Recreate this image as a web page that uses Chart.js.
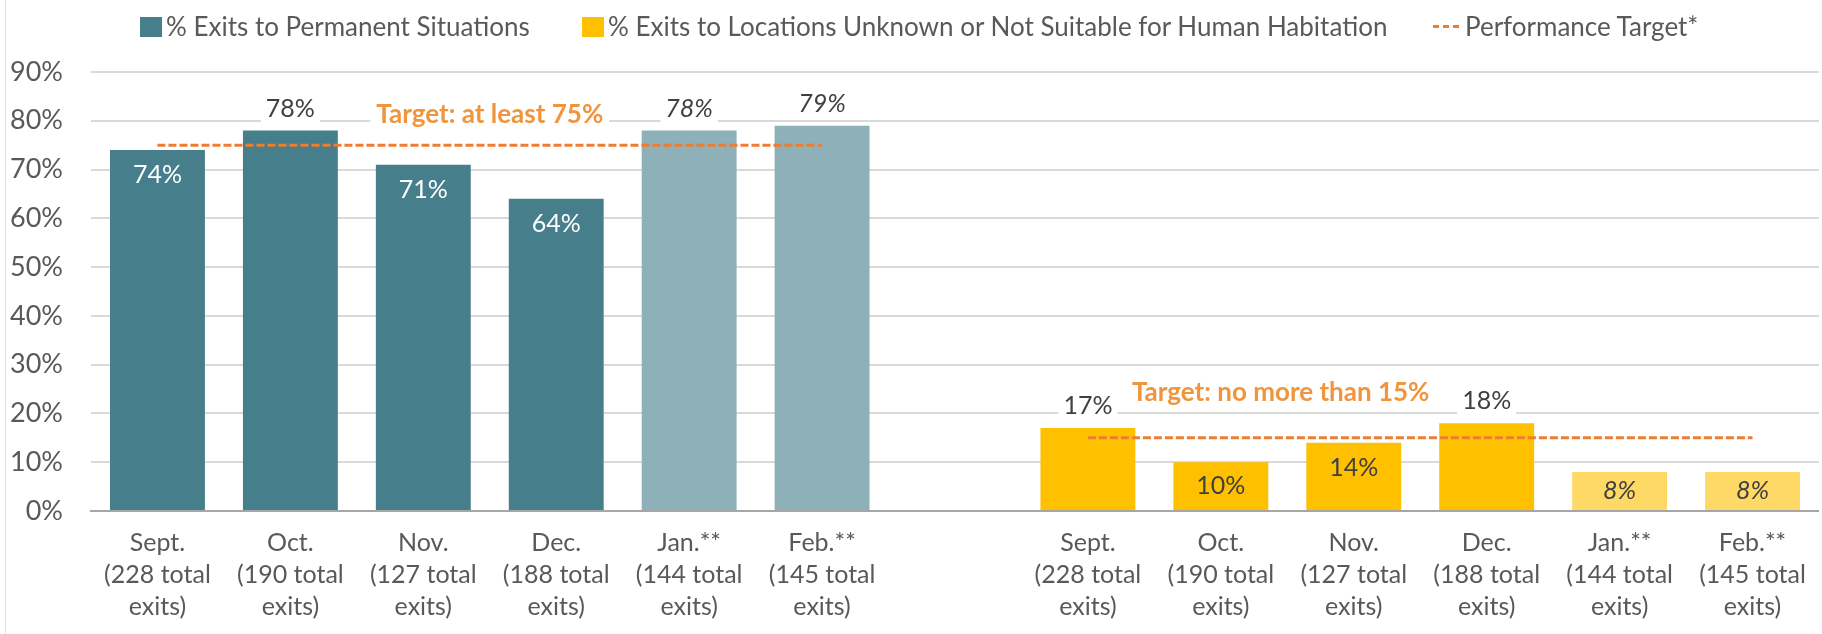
<!DOCTYPE html>
<html>
<head>
<meta charset="utf-8">
<script src="https://cdn.jsdelivr.net/npm/chart.js@4.4.1/dist/chart.umd.min.js"></script>
<style>
  html, body { margin: 0; padding: 0; background: #fff; }
  #wrap { position: relative; width: 1822px; height: 634px; font-family: Lato, sans-serif; color: #595959; }
  #wrap:before { content: ''; position: absolute; left: 5px; top: 0; bottom: 0; border-left: 1px solid #e4e4e4; }
  canvas { position: absolute; left: 0; top: 0; }
  .leg { position: absolute; top: 10px; font-size: 26px; line-height: 32px; white-space: nowrap; }
  .leg i { position: absolute; top: 7px; }
  .sq { width: 22px; height: 20px; }
  .dash { width: 26px; height: 0; border-top: 3px dashed #ED7D31; top: 15px !important; }
</style>
</head>
<body>
<div id="wrap">
  <canvas id="chart" width="1822" height="634"></canvas>
  <div class="leg" style="left:140px; padding-left:26px"><i class="sq" style="left:0; background:#467F8B"></i>% Exits to Permanent Situations</div>
  <div class="leg" style="left:582px; padding-left:26px"><i class="sq" style="left:0; background:#FFC000"></i>% Exits to Locations Unknown or Not Suitable for Human Habitation</div>
  <div class="leg" style="left:1433px; padding-left:32px"><i class="dash" style="left:0"></i>Performance Target*</div>
</div>
<script>
// categories (two panels of the same months, one empty slot between)
const months = [
    ['Sept.', '(228 total', 'exits)'],
    ['Oct.', '(190 total', 'exits)'],
    ['Nov.', '(127 total', 'exits)'],
    ['Dec.', '(188 total', 'exits)'],
    ['Jan.**', '(144 total', 'exits)'],
    ['Feb.**', '(145 total', 'exits)']
];
const permanentPct = [74, 78, 71, 64, 78, 79];
const unsuitablePct = [17, 10, 14, 18, 8, 8];
const provisional = [false, false, false, false, true, true]; // Jan/Feb **
const permanentLabelAbove = [false, true, false, false, true, true];
const unsuitableLabelAbove = [true, false, false, true, false, false];
const targetPermanent = 75;
const targetUnsuitable = 15;
const targetNotes = ['Target: at least 75%', 'Target: no more than 15%'];
const targetNoteAt = [[2.5, 81.2], [8.45, 24.2]]; // [category index, value]
const yTicks = [0, 10, 20, 30, 40, 50, 60, 70, 80, 90];

const gap = [null];
const blanks = months.map(() => null);
const labels = [...months, '', ...months];

const teal = '#467F8B', tealLight = '#8EB1B9';
const gold = '#FFC000', goldLight = '#FFD966';

const barLabels = {
    id: 'barLabels',
    afterDatasetsDraw(chart) {
        const ctx = chart.ctx;
        chart.data.datasets.forEach((ds, di) => {
            if (ds.type !== 'bar') return;
            const meta = chart.getDatasetMeta(di);
            meta.data.forEach((bar, i) => {
                const v = ds.data[i];
                if (v == null) return;
                const k = ds.monthIndex[i];
                ctx.save();
                ctx.font = (provisional[k] ? 'italic ' : '') + '25px Lato';
                ctx.textAlign = 'center';
                ctx.textBaseline = 'middle';
                const txt = v + '%';
                let y;
                if (ds.labelAbove[k]) {
                    y = bar.y - 22;
                    const w = ctx.measureText(txt).width + 10;
                    ctx.fillStyle = '#fff';
                    ctx.fillRect(bar.x - w / 2, y - 14, w, 28);
                    ctx.fillStyle = '#404040';
                } else {
                    y = Math.min(bar.y + 25, (bar.y + bar.base) / 2);
                    ctx.fillStyle = ds.insideColor;
                }
                ctx.fillText(txt, bar.x, y);
                ctx.restore();
            });
        });
        // target notes
        const xs = chart.scales.x, ys = chart.scales.y;
        ctx.save();
        ctx.font = 'bold 26px Lato';
        ctx.textAlign = 'center';
        ctx.textBaseline = 'middle';
        targetNotes.forEach((t, j) => {
            const x = xs.getPixelForValue(targetNoteAt[j][0]);
            const y = ys.getPixelForValue(targetNoteAt[j][1]);
            const w = ctx.measureText(t).width + 12;
            ctx.fillStyle = '#fff';
            ctx.fillRect(x - w / 2, y - 15, w, 30);
            ctx.fillStyle = '#F0953C';
            ctx.fillText(t, x, y);
        });
        ctx.restore();
    }
};

new Chart(document.getElementById('chart'), {
    data: {
        labels: labels,
        datasets: [
            {
                type: 'line',
                label: 'Performance Target*',
                data: [...months.map(() => targetPermanent), ...gap, ...months.map(() => targetUnsuitable)],
                borderColor: '#ED7D31',
                borderWidth: 3,
                borderDash: [8, 3],
                pointRadius: 0,
                spanGaps: false,
                order: 0
            },
            {
                type: 'bar',
                label: '% Exits to Permanent Situations',
                data: [...permanentPct, ...gap, ...blanks],
                backgroundColor: [...provisional.map(p => p ? tealLight : teal), ...gap, ...blanks],
                monthIndex: [0, 1, 2, 3, 4, 5],
                labelAbove: permanentLabelAbove,
                insideColor: '#ffffff',
                grouped: false,
                order: 1
            },
            {
                type: 'bar',
                label: '% Exits to Locations Unknown or Not Suitable for Human Habitation',
                data: [...blanks, ...gap, ...unsuitablePct],
                backgroundColor: [...blanks, ...gap, ...provisional.map(p => p ? goldLight : gold)],
                monthIndex: [null, null, null, null, null, null, null, 0, 1, 2, 3, 4, 5],
                labelAbove: unsuitableLabelAbove,
                insideColor: '#404040',
                grouped: false,
                order: 1
            }
        ]
    },
    options: {
        responsive: false,
        animation: false,
        layout: { padding: { top: 72, right: 3, left: 0, bottom: 0 } },
        datasets: { bar: { barPercentage: 0.714, categoryPercentage: 1 } },
        plugins: { legend: { display: false }, tooltip: { enabled: false } },
        scales: {
            x: {
                grid: { display: false, drawTicks: false },
                border: { display: true, color: '#A6A6A6', width: 2 },
                ticks: {
                    color: '#595959',
                    font: { family: 'Lato', size: 25, lineHeight: '32px' },
                    padding: 16,
                    maxRotation: 0,
                    autoSkip: false
                },
                afterFit(s) { s.height = 123; }
            },
            y: {
                min: 0,
                max: 90,
                afterBuildTicks(s) { s.ticks = yTicks.map(v => ({ value: v })); },
                grid: { color: '#D9D9D9', lineWidth: 2, drawTicks: false },
                border: { display: false },
                ticks: {
                    color: '#595959',
                    font: { family: 'Lato', size: 27 },
                    padding: 28,
                    callback: v => v + '%'
                },
                afterFit(s) { s.width = 91; }
            }
        }
    },
    plugins: [barLabels]
});
</script>
</body>
</html>
